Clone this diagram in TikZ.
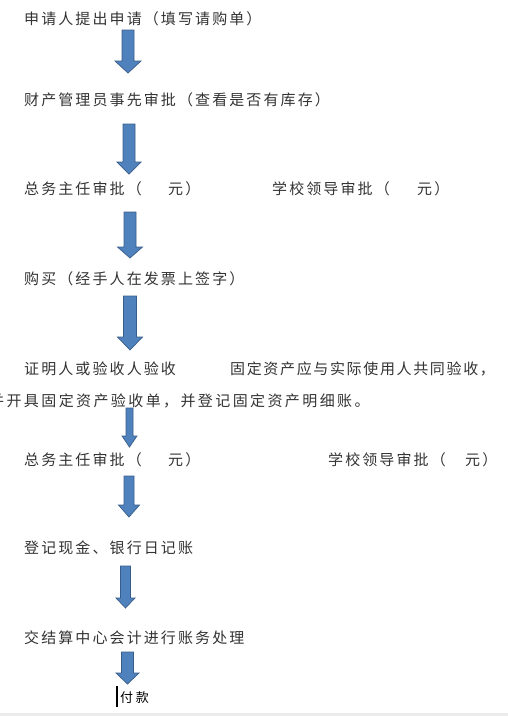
\documentclass[tikz,border=0pt]{standalone}
\usepackage{fontspec}
\setmainfont{Noto Sans CJK SC}[LetterSpace=14]
\newfontfamily\midcjk{Noto Sans CJK SC}[LetterSpace=16]
\newfontfamily\tightcjk{Noto Sans CJK SC}[LetterSpace=11]
\newfontfamily\plaincjk{Noto Sans CJK SC}[LetterSpace=20]
\definecolor{arrowfill}{HTML}{4F81BD}
\definecolor{arrowedge}{HTML}{385D8A}
% x, top, neck, tip, half shaft, half head
\newcommand{\downblock}[6]{%
  \draw[barrow] (#1-#5,#2) -- (#1+#5,#2) -- (#1+#5,#3) -- (#1+#6,#3) -- (#1,#4)
    -- (#1-#6,#3) -- (#1-#5,#3) -- cycle;}

\begin{document}
\begin{tikzpicture}[x=1pt, y=-1pt,
  line/.style={anchor=west, inner sep=0pt, text height=12pt, text depth=2pt,
    font=\fontsize{15}{15}\selectfont, text=black!80},
  barrow/.style={draw=arrowedge, fill=arrowfill, line width=0.7pt}]

\useasboundingbox (0,0) rectangle (508,716);

\node[line] (req) at (24,19.5) {申请人提出申请（填写请购单）};
\node[line] (asset) at (24,100) {财产管理员事先审批（查看是否有库存）};
\node[line] (dirA) at (24,189.5) {总务主任审批（};
\node[line] (dirAamt) at (168,189.5) {元）};
\node[line] (leadA) at (272,189.5) {学校领导审批（};
\node[line] (leadAamt) at (417,189.5) {元）};
\node[line] (buy) at (24,279.5) {购买（经手人在发票上签字）};
\node[line] (check) at (24,369.5) {证明人或验收人验收};
\node[line, font=\fontsize{15}{15}\tightcjk] (note) at (230,369.5) {固定资产应与实际使用人共同验收，};
\node[line, font=\fontsize{15}{15}\midcjk] (note2) at (-11,401) {并开具固定资产验收单，并登记固定资产明细账。};
\node[line] (dirB) at (24,460) {总务主任审批（};
\node[line] (dirBamt) at (168,460) {元）};
\node[line] (leadB) at (328,460) {学校领导审批（};
\node[line] (leadBamt) at (465,460) {元）};
\node[line] (cash) at (24,548) {登记现金、银行日记账};
\node[line] (settle) at (24,638.5) {交结算中心会计进行账务处理};
\node[line, font=\fontsize{13}{13}\plaincjk, text=black] (pay) at (120,697) {付款};

% block arrows
\downblock{128}{30}{61}{73}{6}{13}
\downblock{129}{124}{162}{174}{6}{12}
\downblock{130}{212}{247}{258}{6}{12.5}
\downblock{130}{296}{337}{350}{6.5}{12.5}
\downblock{129.5}{408}{436}{447}{3.5}{7.5}
\downblock{129}{476}{505}{517}{5}{10.5}
\downblock{125.5}{566}{598}{608}{5}{9.5}
\downblock{127.5}{652}{673}{684}{6}{11.5}

% cursor and page edge
\draw[line width=1.6pt] (117,686) -- (117,707);
\fill[black!8] (0,713) rectangle (508,716);

\end{tikzpicture}
\end{document}
